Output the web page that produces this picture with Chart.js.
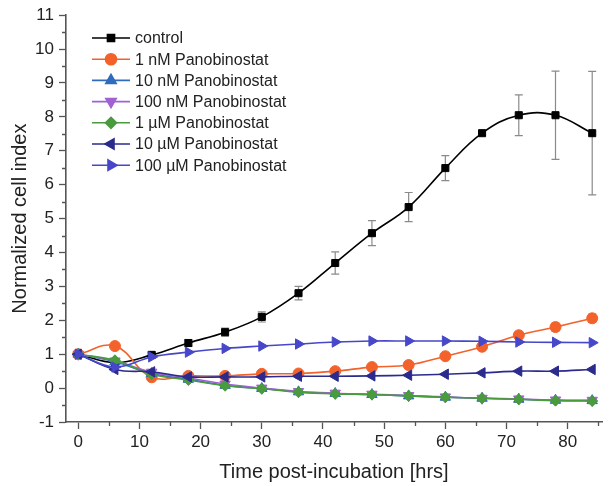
<!DOCTYPE html>
<html>
<head>
<meta charset="utf-8">
<script src="https://cdn.jsdelivr.net/npm/chart.js@4.4.1/dist/chart.umd.min.js"></script>
<style>
html,body{margin:0;padding:0;background:#fff;}
#wrap{width:609px;height:486px;position:relative;}
</style>
</head>
<body>
<div id="wrap"><canvas id="c" width="609" height="486"></canvas></div>
<script>
const times = [0, 6, 12, 18, 24, 30, 36, 42, 48, 54, 60, 66, 72, 78, 84];
const xTickLabels = [0, 10, 20, 30, 40, 50, 60, 70, 80];
const seriesNames = ["control", "1 nM Panobinostat", "10 nM Panobinostat", "100 nM Panobinostat", "1 µM Panobinostat", "10 µM Panobinostat", "100 µM Panobinostat"];
const control    = [1.00, 0.75, 0.98, 1.33, 1.65, 2.10, 2.80, 3.69, 4.57, 5.34, 6.49, 7.52, 8.05, 8.05, 7.52];
const controlErr = [0.05, 0.05, 0.08, 0.10, 0.12, 0.15, 0.20, 0.33, 0.37, 0.43, 0.37, 0.06, 0.60, 1.30, 1.82];
const nM1        = [1.00, 1.24, 0.32, 0.36, 0.36, 0.42, 0.43, 0.50, 0.62, 0.68, 0.94, 1.22, 1.56, 1.80, 2.06];
const nM1Err     = [0.03, 0.05, 0.05, 0.05, 0.05, 0.05, 0.05, 0.06, 0.08, 0.08, 0.08, 0.08, 0.10, 0.12, 0.12];
const nM10       = [1.00, 0.78, 0.43, 0.26, 0.08, -0.01, -0.11, -0.16, -0.19, -0.23, -0.27, -0.30, -0.33, -0.36, -0.37];
const nM100      = [1.00, 0.80, 0.47, 0.30, 0.12, 0.00, -0.10, -0.15, -0.18, -0.22, -0.26, -0.30, -0.32, -0.35, -0.36];
const uM1        = [1.00, 0.82, 0.41, 0.24, 0.07, -0.02, -0.12, -0.17, -0.19, -0.23, -0.27, -0.30, -0.33, -0.37, -0.38];
const uM10       = [1.00, 0.55, 0.48, 0.33, 0.33, 0.33, 0.35, 0.35, 0.36, 0.38, 0.41, 0.45, 0.50, 0.50, 0.55];
const uM100      = [1.00, 0.62, 0.92, 1.06, 1.17, 1.24, 1.30, 1.36, 1.39, 1.39, 1.39, 1.38, 1.36, 1.35, 1.34];

const seriesValues = [control, nM1, nM10, nM100, uM1, uM10, uM100];
const seriesErrors = [controlErr, nM1Err, null, null, null, null, null];
const colors = ["#000000", "#f2622a", "#2f6cc0", "#a062d2", "#4a9a3e", "#2b2b8e", "#4747c9"];
const errColors = ["#8a8a8a", "#f2622a"];
const styles = [
  {s:"rect", r:0, rad:5},
  {s:"circle", r:0, rad:5.5},
  {s:"triangle", r:0, rad:6},
  {s:"triangle", r:180, rad:6},
  {s:"rectRot", r:0, rad:5.5},
  {s:"triangle", r:270, rad:6},
  {s:"triangle", r:90, rad:6}
];

const datasets = seriesValues.map((vals, i) => ({
  label: seriesNames[i],
  data: times.map((t, k) => ({x: t, y: vals[k]})),
  errs: seriesErrors[i],
  borderColor: colors[i],
  backgroundColor: colors[i],
  pointBackgroundColor: colors[i],
  pointBorderColor: colors[i],
  pointStyle: styles[i].s,
  rotation: styles[i].r,
  pointRadius: styles[i].rad,
  pointBorderWidth: 1,
  borderWidth: 1.6,
  tension: 0.4,
  order: 6 - i
}));

const errorBars = {
  id: "errorBars",
  beforeDatasetsDraw(chart) {
    const ctx = chart.ctx, xs = chart.scales.x, ys = chart.scales.y;
    chart.data.datasets.forEach((ds, i) => {
      if (!ds.errs) return;
      ctx.save();
      ctx.strokeStyle = errColors[i];
      ctx.lineWidth = 1.2;
      ds.data.forEach((p, k) => {
        const e = ds.errs[k];
        const x = xs.getPixelForValue(p.x);
        const y1 = ys.getPixelForValue(p.y + e), y2 = ys.getPixelForValue(p.y - e);
        ctx.beginPath();
        ctx.moveTo(x, y1); ctx.lineTo(x, y2);
        ctx.moveTo(x - 4, y1); ctx.lineTo(x + 4, y1);
        ctx.moveTo(x - 4, y2); ctx.lineTo(x + 4, y2);
        ctx.stroke();
      });
      ctx.restore();
    });
  }
};

const minorTicks = {
  id: "minorTicks",
  afterDraw(chart) {
    const ctx = chart.ctx, xs = chart.scales.x, ys = chart.scales.y, ca = chart.chartArea;
    ctx.save();
    ctx.strokeStyle = "#555";
    ctx.lineWidth = 1.3;
    ctx.beginPath();
    for (let v = 5; v < 85.6; v += 10) {
      const x = Math.round(xs.getPixelForValue(v)) + 0.5;
      ctx.moveTo(x, ca.bottom); ctx.lineTo(x, ca.bottom + 4);
    }
    for (let v = -0.5; v < 11; v += 1) {
      const y = Math.round(ys.getPixelForValue(v)) + 0.5;
      ctx.moveTo(ca.left, y); ctx.lineTo(ca.left - 4, y);
    }
    ctx.stroke();
    ctx.restore();
  }
};

const legendPlugin = {
  id: "innerLegend",
  afterDraw(chart) {
    const ctx = chart.ctx;
    ctx.save();
    chart.data.datasets.forEach((ds, i) => {
      const y = 38 + i * 21.2;
      ctx.strokeStyle = ds.borderColor;
      ctx.lineWidth = 1.6;
      ctx.beginPath();
      ctx.moveTo(92, y); ctx.lineTo(130, y);
      ctx.stroke();
      ctx.fillStyle = ds.backgroundColor;
      Chart.helpers.drawPoint(ctx, {pointStyle: ds.pointStyle, rotation: ds.rotation, radius: ds.pointRadius, borderWidth: 1}, 111, y);
      ctx.fillStyle = "#222";
      ctx.font = "16px 'Liberation Sans', Arial, sans-serif";
      ctx.textBaseline = "middle";
      ctx.textAlign = "left";
      ctx.fillText(ds.label, 135, y + 1);
    });
    ctx.restore();
  }
};

new Chart(document.getElementById("c"), {
  type: "line",
  data: { datasets },
  options: {
    responsive: false,
    animation: false,
    layout: { padding: { top: 15, right: 0, left: 0, bottom: 0 } },
    plugins: { legend: { display: false }, tooltip: { enabled: false } },
    scales: {
      x: {
        type: "linear",
        min: -2, max: 85.6,
        afterFit(s) { s.height = 64; },
        afterBuildTicks(s) { s.ticks = xTickLabels.map(v => ({value: v})); },
        grid: { drawOnChartArea: false, drawTicks: true, tickLength: 7, color: "#555", tickWidth: 1.3 },
        border: { display: true, color: "#555", width: 1.6 },
        ticks: { color: "#222", padding: 3, font: { family: "'Liberation Sans', Arial, sans-serif", size: 17 }, maxRotation: 0 },
        title: { display: true, text: "Time post-incubation [hrs]", color: "#222", padding: { top: 0, bottom: 2 }, font: { family: "'Liberation Sans', Arial, sans-serif", size: 20 } }
      },
      y: {
        min: -1, max: 11,
        afterFit(s) { s.width = 66; },
        grid: { drawOnChartArea: false, drawTicks: true, tickLength: 7, color: "#555", tickWidth: 1.3 },
        border: { display: true, color: "#555", width: 1.6 },
        ticks: { stepSize: 1, color: "#222", padding: 5, font: { family: "'Liberation Sans', Arial, sans-serif", size: 17 } },
        title: { display: true, text: "Normalized cell index", color: "#222", padding: { top: 8, bottom: 0 }, font: { family: "'Liberation Sans', Arial, sans-serif", size: 20 } }
      }
    }
  },
  plugins: [errorBars, minorTicks, legendPlugin]
});
</script>
</body>
</html>
